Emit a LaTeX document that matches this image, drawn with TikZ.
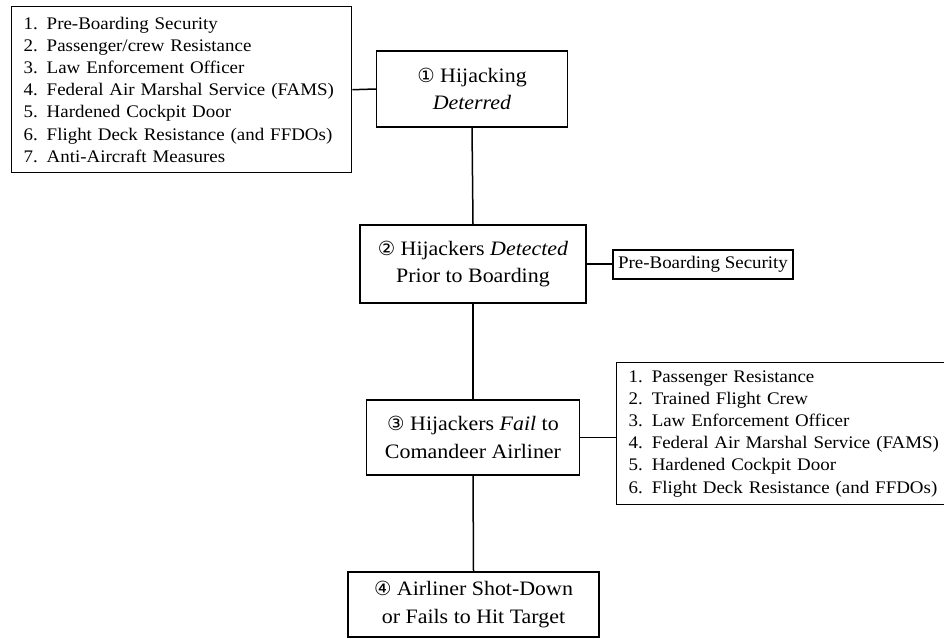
\documentclass[tikz,border=0pt]{standalone}
\usepackage{fontspec}
\setmainfont[FakeStretch=1.07]{Liberation Serif}
\newfontfamily\circfont[Scale=0.95]{DejaVu Sans}
\tikzset{
  every picture/.style={line width=1.4pt},
  mainbox/.style={draw, line width=1.4pt, align=center, inner sep=0pt,
    font=\fontsize{20.5}{27.5}\selectfont},
  listbox/.style={draw, line width=1.4pt, align=left, inner xsep=12pt, inner ysep=0pt,
    font=\fontsize{17.7}{22.2}\selectfont},
  smallbox/.style={draw, line width=1.2pt, inner sep=0pt, font=\fontsize{17.7}{22}\selectfont},
  conn/.style={draw, line width=1.5pt}
}
\newcommand{\cn}[1]{{\circfont #1}}
\begin{document}
\begin{tikzpicture}[x=1pt,y=-1pt]
\useasboundingbox (0,0) rectangle (944,638);
\node[listbox, anchor=north west, minimum width=340pt, minimum height=166pt, text width=316pt] (L) at (11,6)
  {1.\enspace Pre-Boarding Security\\
   2.\enspace Passenger/crew Resistance\\
   3.\enspace Law Enforcement Officer\\
   4.\enspace Federal Air Marshal Service (FAMS)\\
   5.\enspace Hardened Cockpit Door\\
   6.\enspace Flight Deck Resistance (and FFDOs)\\
   7.\enspace Anti-Aircraft Measures};
\node[mainbox, minimum width=191pt, minimum height=76pt] (B1) at (472,89)
  {\cn{①} Hijacking\\ \textit{Deterred}};
\node[mainbox, minimum width=226pt, minimum height=78pt] (B2) at (473,264)
  {\cn{②} Hijackers \textit{Detected}\\ Prior to Boarding};
\node[smallbox, minimum width=180pt, minimum height=29pt] (PB) at (703,264.5)
  {Pre-Boarding Security};
\node[mainbox, minimum width=213pt, minimum height=75pt] (B3) at (473,437.5)
  {\cn{③} Hijackers \textit{Fail} to\\ Comandeer Airliner};
\node[listbox, anchor=north west, minimum width=400pt, minimum height=142pt, text width=376pt] (R) at (616,362)
  {1.\enspace Passenger Resistance\\
   2.\enspace Trained Flight Crew\\
   3.\enspace Law Enforcement Officer\\
   4.\enspace Federal Air Marshal Service (FAMS)\\
   5.\enspace Hardened Cockpit Door\\
   6.\enspace Flight Deck Resistance (and FFDOs)};
\node[mainbox, minimum width=251pt, minimum height=65pt] (B4) at (473.5,604.5)
  {\cn{④} Airliner Shot-Down\\ or Fails to Hit Target};
\draw[conn] (L.east) -- (B1.west);
\draw[conn] (B1.south) -- (B2.north);
\draw[conn] (B2.east) -- (B2.east -| PB.west);
\draw[conn] (B2.south) -- (B3.north);
\draw[conn] (B3.east) -- (B3.east -| R.west);
\draw[conn] (B3.south) -- (B4.north);
\end{tikzpicture}
\end{document}
